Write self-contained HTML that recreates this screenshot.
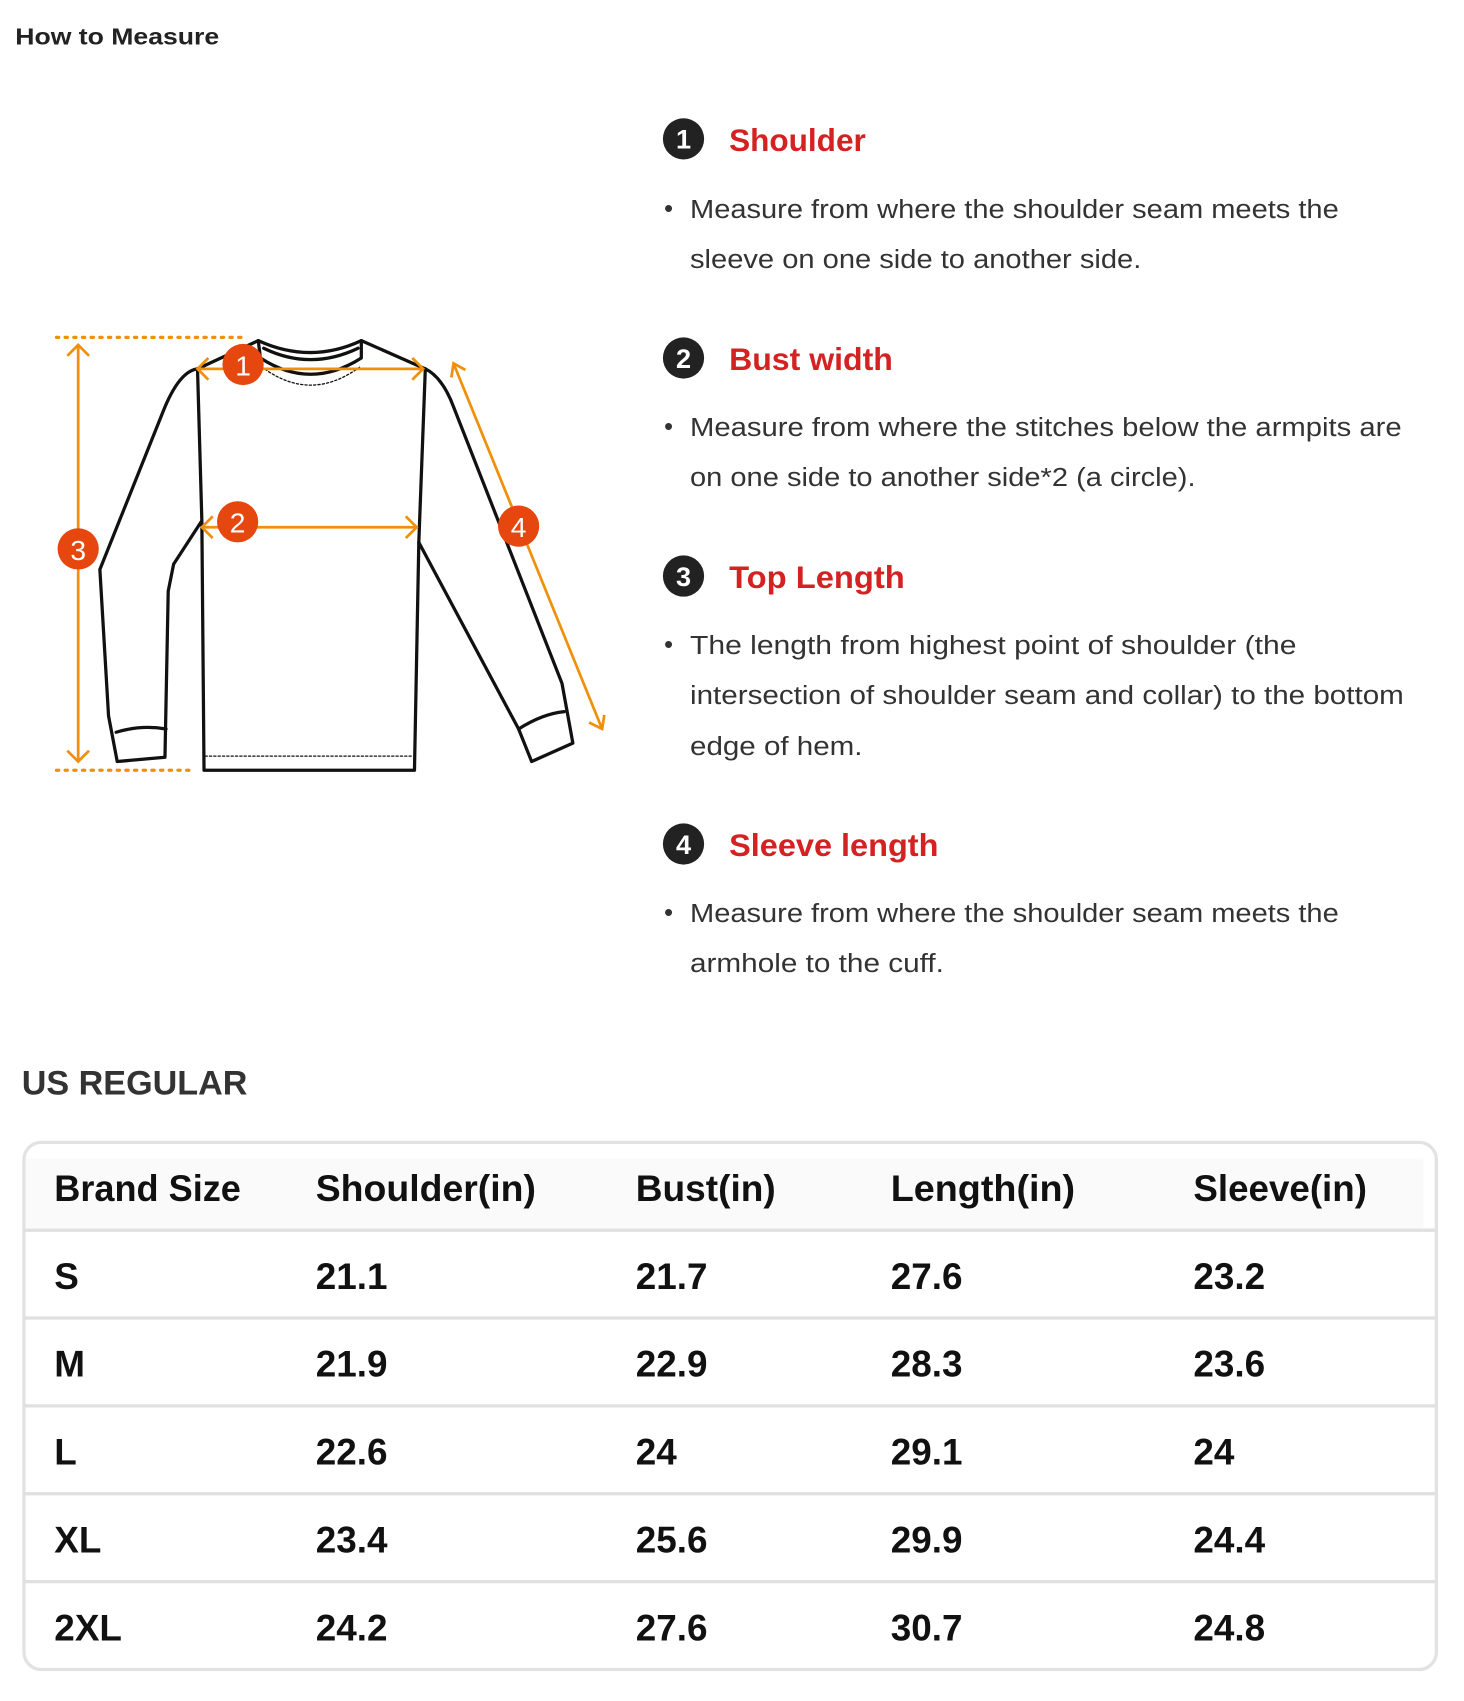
<!DOCTYPE html>
<html><head><meta charset="utf-8"><style>
html,body{margin:0;padding:0;background:#fff;}
svg{display:block;}
</style></head><body>
<svg width="1464" height="1701" viewBox="0 0 1349.4 1568" xmlns="http://www.w3.org/2000/svg" font-family="Liberation Sans, DejaVu Sans, sans-serif">
<rect width="1349.4" height="1568" fill="#fff"/>
<text x="14" y="41" font-size="21" font-weight="bold" fill="#222" textLength="188" lengthAdjust="spacingAndGlyphs">How to Measure</text>

<!-- shirt -->
<g fill="none" stroke="#111" stroke-width="3" stroke-linejoin="round" stroke-linecap="round">
<path d="M182,340 L238,314 Q286,336 333,314 L392,340"/>
<path d="M243,321 Q286,342 330,321"/>
<path d="M238,314 L240,330 Q286,360 333,330 L333,314"/>
<path d="M241,338 Q286,372 332,338" stroke-width="1.2" stroke-dasharray="2,2"/>
<path d="M182,340 L186,480 L188,710 L382,710 L386,500 L392,340"/>
<path d="M189,697 L380,697" stroke-width="1.2" stroke-dasharray="2,2"/>
<path d="M182,340 Q165,342 150,380 L92,525 L100,660 L108,702 L152,698 L155,545 L160,520 L186,480"/>
<path d="M107,675 Q130,668 153,672"/>
<path d="M392,340 Q408,348 418,375 L518,630 L528,685 L490,702 L478,672 L386,500"/>
<path d="M478,672 Q500,658 520,656"/>
</g>
<g stroke="#f0900a" stroke-width="2.5" fill="none">
<path d="M52,311 L228,311" stroke-dasharray="2,6" stroke-width="3" stroke-linecap="round"/>
<path d="M52,710 L178,710" stroke-dasharray="2,6" stroke-width="3" stroke-linecap="round"/>
<path d="M72,318 L72,702 M62,328 L72,318 L82,328 M62,692 L72,702 L82,692"/>
<path d="M182,340 L390,340 M192,330 L182,340 L192,350 M380,330 L390,340 L380,350"/>
<path d="M186,486 L384,486 M196,476 L186,486 L196,496 M374,476 L384,486 L374,496"/>
<path d="M418,335 L555,672 M416,348 L418,335 L429,341 M543,666 L555,672 L557,659"/>
</g>
<g fill="#e5470f"><circle cx="72" cy="506" r="19"/><circle cx="224" cy="336" r="19"/><circle cx="219" cy="481" r="19"/><circle cx="478" cy="485" r="19"/></g>
<g fill="#fff" font-size="26" text-anchor="middle"><text x="72" y="516">3</text><text x="224" y="346">1</text><text x="219" y="491">2</text><text x="478" y="495">4</text></g>

<!-- descriptions -->
<g fill="#222"><circle cx="630" cy="128" r="19"/><circle cx="630" cy="330" r="19"/><circle cx="630" cy="531" r="19"/><circle cx="630" cy="778" r="19"/></g>
<g fill="#fff" font-size="25" font-weight="bold" text-anchor="middle"><text x="630" y="137">1</text><text x="630" y="339">2</text><text x="630" y="540">3</text><text x="630" y="787">4</text></g>
<g fill="#d42222" font-size="29" font-weight="bold">
<text x="672" y="139" textLength="126" lengthAdjust="spacingAndGlyphs">Shoulder</text>
<text x="672" y="341" textLength="151" lengthAdjust="spacingAndGlyphs">Bust width</text>
<text x="672" y="542" textLength="162" lengthAdjust="spacingAndGlyphs">Top Length</text>
<text x="672" y="789" textLength="193" lengthAdjust="spacingAndGlyphs">Sleeve length</text>
</g>
<g fill="#333" font-size="24">
<text x="612" y="200">•</text><text x="612" y="401">•</text><text x="612" y="602">•</text><text x="612" y="849">•</text>
<text x="636" y="201" textLength="598" lengthAdjust="spacingAndGlyphs">Measure from where the shoulder seam meets the</text>
<text x="636" y="247" textLength="416" lengthAdjust="spacingAndGlyphs">sleeve on one side to another side.</text>
<text x="636" y="402" textLength="656" lengthAdjust="spacingAndGlyphs">Measure from where the stitches below the armpits are</text>
<text x="636" y="448" textLength="466" lengthAdjust="spacingAndGlyphs">on one side to another side*2 (a circle).</text>
<text x="636" y="603" textLength="559" lengthAdjust="spacingAndGlyphs">The length from highest point of shoulder  (the</text>
<text x="636" y="649" textLength="658" lengthAdjust="spacingAndGlyphs">intersection of shoulder seam and collar) to the bottom</text>
<text x="636" y="696" textLength="159" lengthAdjust="spacingAndGlyphs">edge of hem.</text>
<text x="636" y="850" textLength="598" lengthAdjust="spacingAndGlyphs">Measure from where the shoulder seam meets the</text>
<text x="636" y="896" textLength="234" lengthAdjust="spacingAndGlyphs">armhole to the cuff.</text>
</g>

<!-- table -->
<text x="20" y="1009" font-size="32" font-weight="bold" fill="#333" textLength="208" lengthAdjust="spacingAndGlyphs">US REGULAR</text>
<rect x="22" y="1053" width="1302" height="486" rx="16" fill="#fff" stroke="#e2e2e2" stroke-width="3"/>
<rect x="24" y="1068" width="1288" height="64" fill="#fafafa"/>
<g stroke="#e0e0e0" stroke-width="3">
<line x1="22" y1="1134" x2="1324" y2="1134"/><line x1="22" y1="1215" x2="1324" y2="1215"/>
<line x1="22" y1="1296" x2="1324" y2="1296"/><line x1="22" y1="1377" x2="1324" y2="1377"/>
<line x1="22" y1="1458" x2="1324" y2="1458"/>
</g>
<g font-size="34" font-weight="bold" fill="#111">
<text x="50" y="1107" textLength="172" lengthAdjust="spacingAndGlyphs">Brand Size</text>
<text x="291" y="1107" textLength="203" lengthAdjust="spacingAndGlyphs">Shoulder(in)</text>
<text x="586" y="1107" textLength="129" lengthAdjust="spacingAndGlyphs">Bust(in)</text>
<text x="821" y="1107" textLength="170" lengthAdjust="spacingAndGlyphs">Length(in)</text>
<text x="1100" y="1107" textLength="160" lengthAdjust="spacingAndGlyphs">Sleeve(in)</text>
<text x="50" y="1188">S</text><text x="291" y="1188">21.1</text><text x="586" y="1188">21.7</text><text x="821" y="1188">27.6</text><text x="1100" y="1188">23.2</text>
<text x="50" y="1269">M</text><text x="291" y="1269">21.9</text><text x="586" y="1269">22.9</text><text x="821" y="1269">28.3</text><text x="1100" y="1269">23.6</text>
<text x="50" y="1350">L</text><text x="291" y="1350">22.6</text><text x="586" y="1350">24</text><text x="821" y="1350">29.1</text><text x="1100" y="1350">24</text>
<text x="50" y="1431">XL</text><text x="291" y="1431">23.4</text><text x="586" y="1431">25.6</text><text x="821" y="1431">29.9</text><text x="1100" y="1431">24.4</text>
<text x="50" y="1512">2XL</text><text x="291" y="1512">24.2</text><text x="586" y="1512">27.6</text><text x="821" y="1512">30.7</text><text x="1100" y="1512">24.8</text>
</g>
</svg>
</body></html>
